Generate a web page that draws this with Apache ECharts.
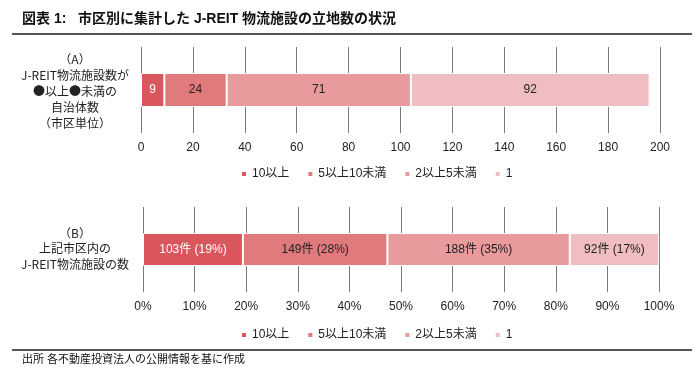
<!DOCTYPE html>
<html><head><meta charset="utf-8">
<script src="https://cdn.jsdelivr.net/npm/echarts@6/dist/echarts.min.js"></script>
<style>html,body{margin:0;padding:0;background:#fff}#c{width:700px;height:372px}</style>
</head><body><div id="c"></div>
<script>
const categories = ['10以上', '5以上10未満', '2以上5未満', '1'];
const colors = ['#d9575c', '#e07a7c', '#e89a9c', '#f0bec0'];
const labelColors = ['#ffffff', '#222222', '#222222', '#222222'];
const countA = [9, 24, 71, 92];           // 自治体数
const countB = [103, 149, 188, 92];       // 施設数
const ticksA = { min: 0, max: 200, interval: 20 };
const ticksB = { min: 0, max: 100, interval: 10 };
const titleText = '図表 1:   市区別に集計した J-REIT 物流施設の立地数の状況';
const labelA = ['（A）', 'J-REIT物流施設数が', '●以上●未満の', '自治体数', '（市区単位）'];
const labelB = ['（B）', '上記市区内の', 'J-REIT物流施設の数'];
const sourceText = '出所 各不動産投資法人の公開情報を基に作成';

const FONT = '"Liberation Sans", Arial, "Noto Sans CJK JP", sans-serif';
const CJKFONT = '"Noto Sans CJK JP", "Liberation Sans", sans-serif';
const totalB = countB.reduce((a, b) => a + b, 0);
const pctB = countB.map(v => v / totalB * 100);

const chart = echarts.init(document.getElementById('c'), null, { renderer: 'canvas' });

const series = [];
categories.forEach((name, i) => {
  series.push({
    name, type: 'bar', stack: 'A', xAxisIndex: 0, yAxisIndex: 0, barWidth: 34,
    data: [countA[i]],
    itemStyle: { color: colors[i], borderColor: '#fff', borderWidth: 1 },
    label: { show: true, position: 'inside', color: labelColors[i], fontSize: 12, fontFamily: FONT },
    emphasis: { disabled: true }
  });
  series.push({
    name, type: 'bar', stack: 'B', xAxisIndex: 1, yAxisIndex: 1, barWidth: 33,
    data: [pctB[i]],
    itemStyle: { color: colors[i], borderColor: '#fff', borderWidth: 1 },
    label: {
      show: true, position: 'inside', color: labelColors[i], fontSize: 12, fontFamily: FONT,
      formatter: () => countB[i] + '件 (' + Math.round(pctB[i]) + '%)'
    },
    emphasis: { disabled: true }
  });
});

const xAxisCommon = {
  type: 'value',
  axisLine: { show: false }, axisTick: { show: false },
  splitLine: { show: true, lineStyle: { color: '#7a7a7a', width: 1 } },
  axisLabel: { color: '#222', fontSize: 12, fontFamily: FONT, margin: 9 }
};

function textLines(lines, cx, y0, lh) {
  return lines.map((t, k) => ({
    type: 'text', x: cx, y: y0 + k * lh,
    style: { text: t, fontSize: 12, fontFamily: CJKFONT, fill: '#222', align: 'center', verticalAlign: 'middle' }
  }));
}

const legendCommon = {
  data: categories, left: 240, padding: 0, itemWidth: 6, itemHeight: 6, itemGap: 17, icon: 'rect',
  textStyle: { fontSize: 12, fontFamily: FONT, color: '#222' },
  selectedMode: false
};

chart.setOption({
  animation: false,
  grid: [
    { left: 141, right: 40, top: 47, height: 86 },
    { left: 143, right: 41, top: 207, height: 85 }
  ],
  xAxis: [
    Object.assign({}, xAxisCommon, { gridIndex: 0, min: ticksA.min, max: ticksA.max, interval: ticksA.interval }),
    Object.assign({}, xAxisCommon, { gridIndex: 1, min: ticksB.min, max: ticksB.max, interval: ticksB.interval,
      axisLabel: Object.assign({}, xAxisCommon.axisLabel, { formatter: v => v + '%' }) })
  ],
  yAxis: [
    { type: 'category', gridIndex: 0, data: ['A'], show: false },
    { type: 'category', gridIndex: 1, data: ['B'], show: false }
  ],
  legend: [
    Object.assign({}, legendCommon, { top: 168 }),
    Object.assign({}, legendCommon, { top: 329 })
  ],
  series,
  graphic: [
    { type: 'text', x: 22, y: 19, style: { text: titleText, fontSize: 14, fontWeight: 'bold', fontFamily: FONT, fill: '#111', verticalAlign: 'middle' } },
    { type: 'line', shape: { x1: 12, y1: 34, x2: 692, y2: 34 }, style: { stroke: '#555', lineWidth: 2 } },
    { type: 'line', shape: { x1: 12, y1: 350, x2: 692, y2: 350 }, style: { stroke: '#555', lineWidth: 2 } },
    { type: 'text', x: 22, y: 360, style: { text: sourceText, fontSize: 11, fontFamily: FONT, fill: '#111', verticalAlign: 'middle' } }
  ].concat(textLines(labelA, 75, 59, 16)).concat(textLines(labelB, 75, 233, 15.5))
});
</script></body></html>
